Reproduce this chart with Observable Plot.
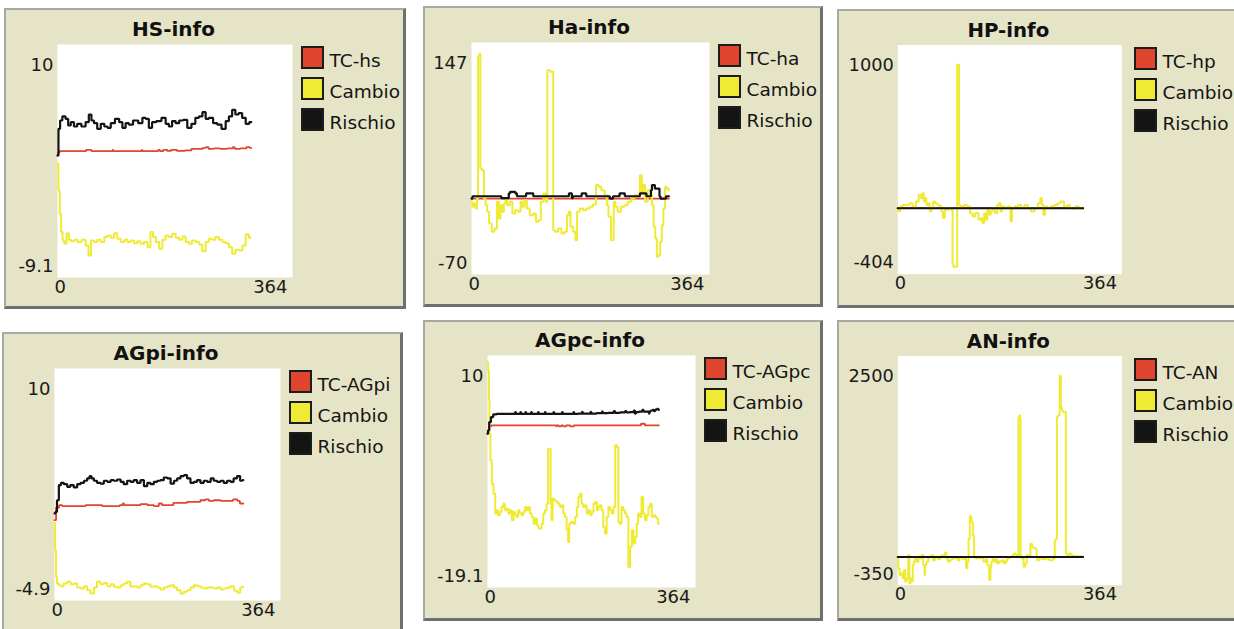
<!DOCTYPE html>
<html><head><meta charset="utf-8">
<script src="https://cdn.jsdelivr.net/npm/d3@7"></script>
<script src="https://cdn.jsdelivr.net/npm/@observablehq/plot@0.6"></script>
<style>
html,body{margin:0;padding:0;background:#fff;}
#page{position:relative;width:1234px;height:629px;overflow:hidden;background:#fff;}
.panel{position:absolute;box-sizing:border-box;background:#E6E4C6;border-style:solid;border-width:2px 3px 3px 2px;border-color:#A9A9A4 #6F6F6F #6F6F6F #A9A9A4;}
.chart{position:absolute;}
.sw{position:absolute;width:23px;height:23px;box-sizing:border-box;border:2px solid #1c1c1c;}
.lt{position:absolute;font-family:"DejaVu Sans",sans-serif;font-size:18.5px;line-height:1;color:#151515;white-space:nowrap;}
</style></head><body><div id="page"></div><script>
// ---- shared ----
const xDomain = [0, 364];
const xTicks = [0, 364];
const seriesNames = ["TC", "Cambio", "Rischio"];
const seriesColors = ["#E0462F", "#EFEB35", "#141414"];

// ---- HS-info ----
const hsTitle = "HS-info";
const hsLabels = ["TC-hs", "Cambio", "Rischio"];
const hsY = [-9.1, 10];
const hsTC = [[0,0.9],[2,1.17],[5,1.26],[44,1.26],[45,1.37],[52,1.37],[53,1.26],[85,1.26],[86,1.37],[87,1.26],[130,1.26],[131,1.37],[132,1.26],[155,1.26],[157,1.37],[160,1.26],[168,1.37],[172,1.28],[180,1.37],[190,1.28],[205,1.32],[210,1.45],[222,1.45],[228,1.52],[232,1.58],[236,1.45],[248,1.48],[256,1.45],[270,1.48],[273,1.58],[276,1.45],[290,1.48],[295,1.58],[300,1.52]];
const hsCambio = [[0,0.22],[3,-1.97],[4,-3.88],[7,-5.38],[9,-6.07],[12,-6.34],[16,-5.47],[19,-6.01],[23,-6.12],[28,-6.01],[34,-6.2],[41,-6.01],[46,-6.48],[50,-7.3],[54,-6.07],[59,-6.2],[64,-6.01],[70,-6.2],[75,-5.79],[80,-5.66],[85,-5.85],[90,-5.47],[95,-5.93],[101,-6.2],[106,-6.01],[111,-6.2],[116,-6.07],[121,-6.29],[126,-6.12],[131,-6.34],[137,-6.2],[142,-6.61],[146,-5.38],[150,-5.79],[155,-6.2],[160,-6.75],[165,-6.01],[170,-5.66],[175,-5.79],[180,-5.52],[186,-5.85],[191,-6.01],[196,-5.74],[201,-6.2],[206,-6.34],[211,-6.07],[217,-6.2],[222,-6.39],[227,-6.94],[232,-6.2],[237,-5.93],[242,-6.01],[247,-5.79],[253,-6.01],[258,-6.2],[263,-6.29],[268,-6.61],[273,-7.16],[278,-6.83],[284,-6.89],[289,-6.48],[294,-5.58],[299,-5.85]];
const hsRischio = [[0,0.9],[3,3.09],[5,3.77],[10,4.1],[15,3.91],[18,3.36],[23,3.63],[28,3.28],[33,3.5],[41,3.28],[46,3.63],[51,4.26],[54,3.77],[59,3.55],[64,3.09],[70,3.5],[75,3.28],[80,3.17],[85,3.55],[93,3.91],[98,3.63],[103,3.17],[108,3.55],[113,3.44],[121,3.77],[129,3.55],[134,3.99],[139,3.91],[144,3.17],[149,3.63],[157,3.72],[165,3.99],[170,3.5],[175,3.28],[180,3.72],[186,3.55],[191,3.77],[198,3.82],[204,3.17],[211,3.5],[216,3.99],[222,4.1],[227,4.45],[232,3.91],[237,3.99],[245,3.55],[250,3.44],[258,3.09],[263,3.72],[268,4.1],[273,4.64],[278,4.26],[283,4.37],[289,3.99],[294,3.5],[300,3.63]];

// ---- Ha-info ----
const haTitle = "Ha-info";
const haLabels = ["TC-ha", "Cambio", "Rischio"];
const haY = [-70, 147];
const haTC = [[0,1],[302,1]];
const haCambio = [[0,-2],[3,-6.7],[5,-3.6],[8,-8.3],[9,1.1],[11,133.6],[13,136.7],[14,29.2],[18,27.6],[20,1.1],[23,-5.2],[25,-11.4],[29,-22.3],[33,-30.1],[37,-27],[41,-2],[43,-17.6],[46,-5.2],[48,-11.4],[51,-3.6],[53,-0.5],[56,-5.2],[61,-2],[64,-12.9],[69,-9.8],[74,-11.4],[76,-2],[79,-6.7],[83,-0.5],[86,-8.3],[92,-14.5],[97,-12.9],[100,-20.7],[104,-19.2],[108,-2],[112,5.8],[115,-2],[117,121.1],[124,119.6],[126,-28.5],[130,-30.1],[135,-27],[140,-31.7],[145,-30.1],[147,-14.5],[150,-11.4],[153,-25.4],[158,-30.1],[160,-37.9],[163,-11.4],[168,-8.3],[173,-9.8],[178,-8.3],[183,-6.7],[188,-4.5],[193,13.6],[196,12],[201,8.9],[206,4.2],[208,-5.2],[211,-16.1],[216,-37.9],[219,-2],[221,-6.7],[226,-11.4],[231,-6.7],[236,-5.2],[242,-2],[247,1.1],[252,4.2],[256,2.6],[259,22.9],[262,7.3],[264,13.6],[267,-2],[272,8.9],[275,4.2],[277,-5.2],[280,-25.4],[282,-36.3],[285,-53.5],[287,-51.9],[290,-39.5],[292,-23.9],[295,-8.3],[297,12],[300,10.4],[302,8.9]];
const haRischio = [[0,1],[3,3.2],[45,3.2],[46,1.5],[56,1.5],[58,5.8],[60,7.3],[66,7.3],[68,5.8],[71,3.2],[83,3.2],[84,5.8],[94,5.8],[95,3.2],[148,3.2],[150,5.8],[153,5.8],[154,1.5],[156,3.2],[168,3.2],[169,5.8],[175,5.8],[176,3.2],[211,3.2],[212,1],[216,1],[217,3.2],[226,3.2],[227,5.8],[234,5.8],[235,3.2],[257,3.2],[258,5.8],[267,5.8],[268,3.2],[274,3.2],[275,8.9],[277,13.6],[280,13.6],[281,10.4],[287,10.4],[288,3.2],[290,1],[297,1],[298,3.2],[302,3.2]];

// ---- HP-info ----
const hpTitle = "HP-info";
const hpLabels = ["TC-hp", "Cambio", "Rischio"];
const hpY = [-404, 1000];
const hpTC = [[0,0],[301,0]];
const hpCambio = [[0,-9.9],[3,-20],[5,10.3],[11,20.4],[16,20.4],[21,30.5],[27,10.3],[32,40.6],[36,81],[39,60.8],[41,91.1],[44,40.6],[45,60.8],[48,20.4],[51,30.5],[53,-20],[56,0.2],[59,40.6],[62,30.5],[67,20.4],[70,10.3],[72,-20],[75,-60.4],[78,0.2],[80,-9.9],[84,0.2],[88,-9.9],[90,-343],[91,-359],[96,-359],[97,879],[99,879],[100,20.4],[104,10.3],[110,20.4],[115,10.3],[120,-30.1],[123,-50.3],[128,-30.1],[134,-70.5],[136,-60.4],[139,-90.7],[142,-30.1],[144,-70.5],[147,-9.9],[150,-40.2],[152,-20],[155,0.2],[160,-30.1],[163,20.4],[166,30.5],[168,-20],[171,10.3],[176,0.2],[182,10.3],[184,-80.6],[187,0.2],[192,10.3],[198,20.4],[203,0.2],[208,20.4],[214,0.2],[219,-20],[225,0.2],[230,30.5],[233,60.8],[235,20.4],[238,-40.2],[241,10.3],[246,0.2],[251,10.3],[257,20.4],[262,30.5],[267,40.6],[273,10.3],[278,20.4],[281,0.2],[286,-3.9],[291,10.3],[297,0.2],[301,-3.9]];
const hpRischio = [[0,0],[301,0]];

// ---- AGpi-info ----
const agpiTitle = "AGpi-info";
const agpiLabels = ["TC-AGpi", "Cambio", "Rischio"];
const agpiY = [-4.9, 10];
const agpiTC = [[0,0.26],[5,1.07],[10,1.22],[15,1.16],[47,1.16],[53,1.22],[101,1.16],[109,1.22],[111,1.33],[113,1.22],[133,1.22],[144,1.29],[155,1.22],[165,1.16],[171,1.33],[175,1.22],[208,1.37],[219,1.44],[230,1.44],[240,1.54],[246,1.59],[251,1.5],[262,1.54],[273,1.5],[283,1.5],[292,1.59],[297,1.5],[300,1.33],[304,1.33]];
const agpiCambio = [[0,0.09],[2,-1.67],[3,-3.38],[5,-3.81],[9,-3.92],[12,-3.98],[18,-3.81],[23,-3.7],[29,-3.85],[34,-3.81],[39,-4.07],[45,-4.13],[50,-3.98],[55,-4.24],[61,-4.45],[66,-4.07],[71,-3.7],[77,-3.85],[82,-3.77],[88,-3.98],[93,-3.85],[98,-4.02],[104,-4.07],[109,-3.92],[114,-3.81],[120,-3.7],[125,-4.02],[130,-3.98],[136,-4.07],[141,-3.92],[147,-3.81],[152,-3.85],[157,-4.02],[163,-3.98],[168,-4.07],[173,-4.19],[179,-4.07],[184,-3.98],[190,-3.92],[195,-4.07],[200,-4.24],[206,-4.45],[211,-4.34],[216,-4.24],[222,-4.07],[227,-3.92],[233,-3.98],[238,-4.07],[243,-4.13],[249,-4.07],[254,-4.07],[259,-4.13],[265,-4.07],[270,-4.19],[275,-4.13],[281,-4.07],[286,-3.98],[292,-4.28],[297,-4.41],[301,-4.07],[304,-4.02]];
const agpiRischio = [[0,0.69],[3,0.79],[5,1.54],[9,2.51],[12,2.66],[18,2.57],[23,2.4],[28,2.51],[34,2.36],[39,2.57],[45,2.66],[50,2.79],[55,2.94],[58,3.09],[61,2.94],[66,2.79],[71,2.66],[77,2.61],[82,2.79],[88,2.72],[93,2.83],[98,2.79],[104,2.87],[109,2.72],[114,2.57],[120,2.79],[125,2.72],[130,2.83],[136,2.66],[141,2.83],[147,2.44],[152,2.66],[157,2.57],[163,2.72],[168,2.79],[173,2.83],[179,3],[184,2.94],[190,2.61],[195,2.79],[200,2.94],[206,3.09],[211,3.15],[216,2.94],[222,2.66],[227,2.72],[232,2.83],[238,2.66],[243,2.79],[249,2.72],[254,2.94],[259,2.79],[265,2.72],[270,2.79],[275,2.66],[281,2.79],[286,2.72],[291,2.94],[297,3.09],[301,2.79],[304,2.83]];

// ---- AGpc-info ----
const agpcTitle = "AGpc-info";
const agpcLabels = ["TC-AGpc", "Cambio", "Rischio"];
const agpcY = [-19.1, 10];
const agpcTC = [[0,0.19],[5,1.11],[8,1.23],[120,1.23],[121,1.11],[122,1.23],[128,1.11],[130,1.23],[135,1.11],[140,1.23],[150,1.11],[152,1.23],[268,1.23],[269,1.44],[275,1.44],[276,1.23],[300,1.23]];
const agpcCambio = [[0,9.17],[2,8.12],[3,4.36],[4,0.19],[6,-3.15],[9,-6.08],[12,-7.33],[15,-9.83],[17,-9.42],[20,-10.04],[23,-9.63],[26,-9],[29,-8.58],[32,-9.42],[35,-9.21],[38,-9.83],[41,-9.42],[44,-10.67],[47,-9.63],[50,-10.04],[52,-10.25],[55,-9.42],[58,-9.83],[61,-10.04],[64,-9.63],[67,-9],[70,-9.42],[73,-9],[76,-9.83],[79,-10.25],[82,-11.09],[85,-10.46],[88,-11.3],[90,-11.71],[93,-11.71],[96,-11.09],[99,-9.83],[102,-9.42],[105,-8.58],[107,-1.69],[110,-1.69],[111,-8.58],[113,-10.67],[115,-7.95],[118,-8.16],[122,-8.37],[125,-8.58],[128,-9],[131,-8.79],[134,-9.83],[137,-10.25],[140,-11.92],[142,-13.38],[144,-11.09],[148,-10.88],[152,-11.09],[155,-10.25],[158,-9],[160,-7.75],[163,-7.33],[166,-8.58],[169,-9],[172,-8.79],[175,-9.83],[178,-9.42],[181,-10.04],[184,-9.63],[187,-8.58],[190,-8.37],[193,-9.42],[195,-9],[198,-8.79],[201,-9.42],[204,-11.5],[207,-12.34],[210,-10.25],[213,-9],[216,-9.42],[219,-9.83],[222,-9],[225,-1.27],[228,-1.48],[230,-10.88],[233,-11.09],[236,-9],[239,-9.42],[242,-9.83],[245,-10.25],[248,-16.52],[251,-14.01],[254,-11.92],[257,-13.59],[260,-12.76],[262,-11.09],[265,-9.83],[268,-10.25],[271,-7.75],[274,-9.83],[277,-10.67],[280,-10.04],[283,-9],[286,-8.58],[289,-10.25],[292,-10.04],[295,-10.25],[297,-10.46],[300,-11.09]];
const agpcRischio = [[0,0.19],[2,0.61],[4,1.65],[8,2.28],[12,2.61],[20,2.69],[48,2.69],[49,2.9],[50,2.69],[57,2.69],[58,2.9],[59,2.69],[66,2.69],[67,2.9],[68,2.69],[76,2.69],[77,2.9],[78,2.69],[88,2.69],[89,2.9],[90,2.69],[100,2.69],[101,2.9],[102,2.69],[115,2.69],[116,2.9],[117,2.69],[130,2.69],[131,2.9],[132,2.69],[150,2.69],[151,2.9],[152,2.69],[165,2.72],[166,2.93],[167,2.72],[180,2.72],[181,2.93],[182,2.72],[200,2.76],[201,2.98],[202,2.76],[220,2.8],[222,3.03],[224,2.8],[240,2.86],[242,3.03],[244,2.86],[255,2.9],[257,3.1],[259,2.7],[260,2.9],[270,2.95],[272,3.19],[274,2.95],[282,2.95],[283,2.72],[284,3],[288,3.1],[290,3.19],[292,3.03],[295,3.2],[298,3.32],[300,3.19]];

// ---- AN-info ----
const anTitle = "AN-info";
const anLabels = ["TC-AN", "Cambio", "Rischio"];
const anY = [-350, 2500];
const anTC = [[0,0],[301,0]];
const anCambio = [[0,2],[2,-141],[4,-223],[7,-203],[9,-264],[11,-162],[13,-305],[16,-264],[18,23],[20,-325],[21,-264],[24,-305],[25,-100],[27,-59],[29,-18],[32,-59],[35,2],[37,-18],[40,23],[43,-100],[44,-223],[45,-100],[48,-59],[51,-10],[53,2],[56,23],[59,-39],[62,-10],[64,2],[67,-27],[70,-10],[72,23],[75,2],[78,55],[80,-18],[83,-59],[86,-39],[88,-27],[91,2],[94,-18],[96,-10],[99,-39],[102,2],[104,-10],[107,-27],[110,-18],[112,-141],[114,-59],[116,227],[118,514],[119,494],[121,432],[123,268],[125,2],[128,-18],[131,2],[134,-18],[136,-10],[142,-59],[144,-27],[147,-100],[150,-285],[151,-141],[153,-59],[155,-18],[158,-59],[160,-27],[163,-80],[166,-51],[168,-59],[171,-39],[174,-80],[176,-59],[179,-18],[182,-10],[184,2],[187,23],[190,43],[192,31],[195,2],[197,1742],[198,1763],[199,1722],[200,2],[203,-18],[206,-121],[208,-80],[211,23],[214,2],[217,166],[219,125],[222,113],[225,104],[226,2],[227,-39],[233,-18],[238,-27],[243,-18],[249,-39],[254,-18],[256,207],[258,227],[259,1742],[262,1763],[264,2254],[266,1865],[267,1824],[269,1804],[272,1804],[274,43],[276,23],[281,43],[283,23],[286,14],[289,2],[291,14],[294,2],[297,10],[301,2]];
const anRischio = [[0,0],[301,0]];

// ---- layout (page pixels) ----
const panels = [
  {title: hsTitle, labels: hsLabels, y: hsY, series: [hsTC, hsCambio, hsRischio], box: [4, 8, 402, 301], plot: [57, 44, 292, 277]},
  {title: haTitle, labels: haLabels, y: haY, series: [haTC, haCambio, haRischio], box: [423, 6, 400, 301], plot: [471, 42, 709, 274]},
  {title: hpTitle, labels: hpLabels, y: hpY, series: [hpTC, hpCambio, hpRischio], box: [837, 9, 402, 299], plot: [898, 45, 1125, 277]},
  {title: agpiTitle, labels: agpiLabels, y: agpiY, series: [agpiTC, agpiCambio, agpiRischio], box: [2, 332, 401, 310], plot: [54, 368, 280, 600]},
  {title: agpcTitle, labels: agpcLabels, y: agpcY, series: [agpcTC, agpcCambio, agpcRischio], box: [423, 320, 400, 301], plot: [487, 355, 695, 587]},
  {title: anTitle, labels: anLabels, y: anY, series: [anTC, anCambio, anRischio], box: [837, 320, 402, 301], plot: [898, 356, 1125, 588]}
];
const widths = [1.8, 2, 2.2];
const page = document.getElementById("page");
const font = '"DejaVu Sans", sans-serif';

for (const p of panels) {
  const [bx, by, bw, bh] = p.box;
  const [pl, pt, pr, pb] = p.plot;
  const panel = document.createElement("div");
  panel.className = "panel";
  Object.assign(panel.style, {left: bx + "px", top: by + "px", width: bw + "px", height: bh + "px"});
  page.appendChild(panel);

  const lineMarks = p.series.map((s, i) =>
    Plot.line(s, {x: d => d[0], y: d => d[1], stroke: seriesColors[i], strokeWidth: widths[i], curve: "step", strokeLinejoin: "miter"}));
  const txt = {fontSize: 18, fill: "#1a1a1a", text: d => String(d)};
  const svg = Plot.plot({
    width: bw, height: bh,
    marginLeft: pl - bx, marginTop: pt - by, marginRight: bx + bw - pr, marginBottom: by + bh - pb,
    x: {domain: xDomain, axis: null},
    y: {domain: p.y, axis: null},
    style: {background: "transparent", overflow: "visible", fontFamily: font},
    marks: [
      Plot.frame({fill: "white", stroke: "none"}),
      ...lineMarks,
      Plot.text([p.y[1]], {...txt, y: d => d, frameAnchor: "left", textAnchor: "end", dx: -4, dy: 21}),
      Plot.text([p.y[0]], {...txt, y: d => d, frameAnchor: "left", textAnchor: "end", dx: -4, dy: -11.5}),
      Plot.text([xTicks[0]], {...txt, x: d => d, frameAnchor: "bottom", textAnchor: "start", dx: -3, dy: 15.5}),
      Plot.text([xTicks[1]], {...txt, x: d => d, frameAnchor: "bottom", textAnchor: "end", dx: -5, dy: 15.5}),
      Plot.text([p.title], {text: d => d, frameAnchor: "top", lineAnchor: "bottom", dy: -8.5, dx: -1.5, fontSize: 20, fontWeight: "bold", fill: "#111"})
    ]
  });
  const wrap = document.createElement("div");
  wrap.className = "chart";
  Object.assign(wrap.style, {left: bx + "px", top: by + "px"});
  wrap.appendChild(svg);
  page.appendChild(wrap);

  // legend
  p.labels.forEach((lab, i) => {
    const top = pt + 1.5 + i * 31.3;
    const sw = document.createElement("div");
    sw.className = "sw";
    Object.assign(sw.style, {left: (pr + 8.5) + "px", top: top + "px", background: seriesColors[i]});
    page.appendChild(sw);
    const t = document.createElement("div");
    t.className = "lt";
    t.textContent = lab;
    Object.assign(t.style, {left: (pr + 37.5) + "px", top: (top + 6.3) + "px"});
    page.appendChild(t);
  });
}
</script></body></html>
